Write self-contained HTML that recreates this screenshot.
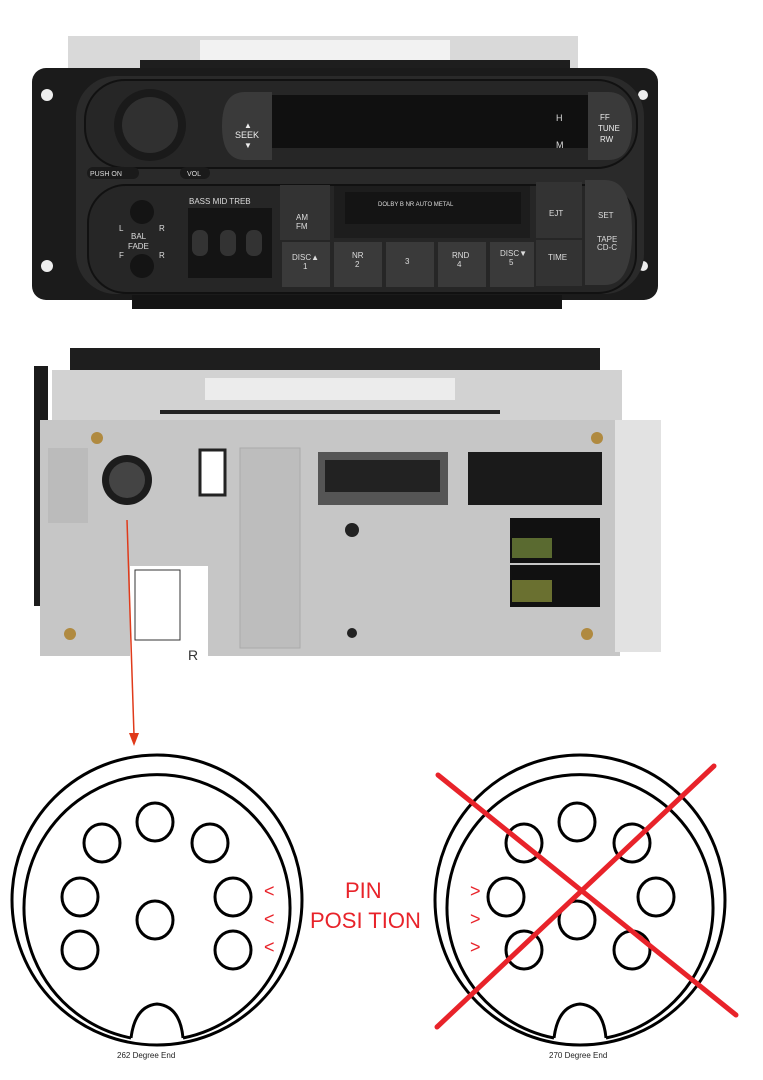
<!DOCTYPE html>
<html><head><meta charset="utf-8"><style>
html,body{margin:0;padding:0;background:#fff;}
svg{display:block;}
text{font-family:"Liberation Sans",sans-serif;}
</style></head><body>
<svg width="763" height="1080" viewBox="0 0 763 1080" xmlns="http://www.w3.org/2000/svg">
<!-- FRONT RADIO -->
<rect x="68" y="36" width="510" height="36" fill="#d9d9d9"/>
<rect x="200" y="40" width="250" height="20" fill="#f2f2f2"/>
<rect x="140" y="60" width="430" height="12" fill="#1e1e1e"/>
<rect x="32" y="68" width="626" height="232" rx="14" fill="#1b1b1b"/>
<circle cx="47" cy="95" r="6" fill="#eee"/><circle cx="47" cy="266" r="6" fill="#eee"/>
<circle cx="643" cy="95" r="5" fill="#eee"/><circle cx="643" cy="266" r="5" fill="#eee"/>
<rect x="132" y="295" width="430" height="14" fill="#141414"/>
<rect x="76" y="76" width="568" height="218" rx="40" fill="#2a2a2a"/>
<rect x="85" y="80" width="552" height="88" rx="40" fill="#262626" stroke="#111" stroke-width="2"/>
<circle cx="150" cy="125" r="36" fill="#1a1a1a"/><circle cx="150" cy="125" r="28" fill="#303030"/>
<rect x="87" y="167" width="52" height="12" rx="6" fill="#1a1a1a"/><text x="90" y="176" font-size="7" fill="#ddd">PUSH ON</text>
<rect x="180" y="167" width="30" height="12" rx="6" fill="#1a1a1a"/><text x="187" y="176" font-size="7" fill="#ddd">VOL</text>
<path d="M272 92 H245 Q222 92 222 126 Q222 160 245 160 H272 Z" fill="#3a3a3a"/>
<text x="235" y="138" font-size="9" fill="#eee">SEEK</text><text x="244" y="128" font-size="8" fill="#eee">▲</text><text x="244" y="148" font-size="8" fill="#eee">▼</text>
<rect x="272" y="95" width="318" height="53" fill="#101010"/>
<text x="556" y="121" font-size="9" fill="#ddd">H</text><text x="556" y="148" font-size="9" fill="#ddd">M</text>
<path d="M588 92 H608 Q632 92 632 126 Q632 160 608 160 H588 Z" fill="#3a3a3a"/>
<text x="600" y="120" font-size="8" fill="#eee">FF</text><text x="598" y="131" font-size="8" fill="#eee">TUNE</text><text x="600" y="142" font-size="8" fill="#eee">RW</text>
<rect x="88" y="185" width="548" height="108" rx="38" fill="#262626" stroke="#111" stroke-width="2"/>
<circle cx="142" cy="212" r="12" fill="#141414"/><circle cx="142" cy="266" r="12" fill="#141414"/>
<text x="119" y="231" font-size="8" fill="#ddd">L</text><text x="159" y="231" font-size="8" fill="#ddd">R</text>
<text x="131" y="239" font-size="8" fill="#ddd">BAL</text><text x="128" y="249" font-size="8" fill="#ddd">FADE</text>
<text x="119" y="258" font-size="8" fill="#ddd">F</text><text x="159" y="258" font-size="8" fill="#ddd">R</text>
<text x="189" y="204" font-size="8" fill="#ddd">BASS  MID  TREB</text>
<rect x="188" y="208" width="84" height="70" fill="#141414"/>
<rect x="192" y="230" width="16" height="26" rx="7" fill="#333"/><rect x="220" y="230" width="16" height="26" rx="7" fill="#333"/><rect x="246" y="230" width="16" height="26" rx="7" fill="#333"/>
<rect x="280" y="185" width="50" height="55" fill="#333"/><text x="296" y="220" font-size="8" fill="#ddd">AM</text><text x="296" y="229" font-size="8" fill="#ddd">FM</text>
<rect x="334" y="186" width="196" height="52" fill="#1d1d1d"/><rect x="345" y="192" width="176" height="32" fill="#141414"/>
<text x="378" y="206" font-size="6" fill="#ddd">DOLBY B NR  AUTO METAL</text>
<rect x="536" y="182" width="46" height="56" fill="#333"/><text x="549" y="216" font-size="8" fill="#ddd">EJT</text>
<rect x="536" y="240" width="46" height="46" fill="#333"/><text x="548" y="260" font-size="8" fill="#ddd">TIME</text>
<path d="M585 180 H605 Q632 180 632 232 Q632 285 605 285 H585 Z" fill="#3a3a3a"/>
<text x="598" y="218" font-size="8" fill="#ddd">SET</text><text x="597" y="242" font-size="8" fill="#ddd">TAPE</text><text x="597" y="250" font-size="8" fill="#ddd">CD-C</text>
<g fill="#3a3a3a"><rect x="282" y="242" width="48" height="45"/><rect x="334" y="242" width="48" height="45"/><rect x="386" y="242" width="48" height="45"/><rect x="438" y="242" width="48" height="45"/><rect x="490" y="242" width="44" height="45"/></g>
<g font-size="8" fill="#ddd"><text x="292" y="260">DISC▲</text><text x="303" y="269">1</text><text x="352" y="258">NR</text><text x="355" y="267">2</text><text x="405" y="264">3</text><text x="452" y="258">RND</text><text x="457" y="267">4</text><text x="500" y="256">DISC▼</text><text x="509" y="265">5</text></g>
<!-- BACK RADIO -->
<rect x="34" y="366" width="14" height="240" fill="#1b1b1b"/>
<rect x="600" y="370" width="20" height="60" fill="#1b1b1b"/>
<rect x="70" y="348" width="530" height="24" fill="#1e1e1e"/>
<rect x="52" y="370" width="570" height="52" fill="#d2d2d2"/>
<rect x="205" y="378" width="250" height="22" fill="#ececec"/>
<g fill="#222"><rect x="160" y="410" width="340" height="4"/></g>
<rect x="40" y="420" width="580" height="236" fill="#c6c6c6"/>
<rect x="615" y="420" width="46" height="232" fill="#e2e2e2"/>
<rect x="48" y="448" width="40" height="75" fill="#bbb"/>
<circle cx="127" cy="480" r="25" fill="#1c1c1c"/><circle cx="127" cy="480" r="18" fill="#444"/>
<rect x="200" y="450" width="25" height="45" fill="#fff" stroke="#222" stroke-width="3"/>
<rect x="240" y="448" width="60" height="200" fill="#bdbdbd" stroke="#aaa"/>
<rect x="318" y="452" width="130" height="53" fill="#555"/><rect x="325" y="460" width="115" height="32" fill="#222"/>
<rect x="468" y="452" width="134" height="53" fill="#1a1a1a"/>
<rect x="510" y="518" width="90" height="45" fill="#111"/><rect x="510" y="565" width="90" height="42" fill="#111"/>
<rect x="512" y="538" width="40" height="20" fill="#5a6a30"/><rect x="512" y="580" width="40" height="22" fill="#6a7030"/>
<circle cx="352" cy="530" r="7" fill="#222"/><circle cx="352" cy="633" r="5" fill="#222"/>
<circle cx="97" cy="438" r="6" fill="#b08a40"/><circle cx="597" cy="438" r="6" fill="#b08a40"/><circle cx="70" cy="634" r="6" fill="#b08a40"/><circle cx="587" cy="634" r="6" fill="#b08a40"/>
<rect x="130" y="566" width="78" height="94" fill="#fff"/><rect x="135" y="570" width="45" height="70" fill="#fff" stroke="#333"/>
<text x="188" y="660" font-size="14" fill="#333">R</text>
<!-- arrow -->
<line x1="127" y1="520" x2="134" y2="735" stroke="#e03a1a" stroke-width="1.5"/>
<polygon points="129,733 139,733 134,746" fill="#e03a1a"/>
<!-- LEFT CONNECTOR -->
<g fill="none" stroke="#000" stroke-width="3">
<ellipse cx="157" cy="900" rx="145" ry="145"/>
<path d="M131 1038 A133 133 0 1 1 183 1038"/>
<path d="M131 1038 Q135 1006 157 1004 Q180 1006 183 1038"/>
<ellipse cx="155" cy="822" rx="18" ry="19"/><ellipse cx="102" cy="843" rx="18" ry="19"/><ellipse cx="210" cy="843" rx="18" ry="19"/>
<ellipse cx="80" cy="897" rx="18" ry="19"/><ellipse cx="233" cy="897" rx="18" ry="19"/><ellipse cx="155" cy="920" rx="18" ry="19"/>
<ellipse cx="80" cy="950" rx="18" ry="19"/><ellipse cx="233" cy="950" rx="18" ry="19"/>
</g>
<!-- RIGHT CONNECTOR -->
<g fill="none" stroke="#000" stroke-width="3">
<ellipse cx="580" cy="900" rx="145" ry="145"/>
<path d="M554 1038 A133 133 0 1 1 606 1038"/>
<path d="M554 1038 Q558 1006 580 1004 Q603 1006 606 1038"/>
<ellipse cx="577" cy="822" rx="18" ry="19"/><ellipse cx="524" cy="843" rx="18" ry="19"/><ellipse cx="632" cy="843" rx="18" ry="19"/>
<ellipse cx="506" cy="897" rx="18" ry="19"/><ellipse cx="656" cy="897" rx="18" ry="19"/><ellipse cx="577" cy="920" rx="18" ry="19"/>
<ellipse cx="524" cy="950" rx="18" ry="19"/><ellipse cx="632" cy="950" rx="18" ry="19"/>
</g>
<g stroke="#e8232a" stroke-width="5" stroke-linecap="round">
<line x1="438" y1="775" x2="736" y2="1015"/><line x1="714" y1="766" x2="437" y2="1027"/>
</g>
<g fill="#e8232a" font-size="22">
<text x="345" y="898">PIN</text><text x="310" y="928">POSI TION</text>
<text x="264" y="897" font-size="18">&lt;</text><text x="264" y="925" font-size="18">&lt;</text><text x="264" y="953" font-size="18">&lt;</text>
<text x="470" y="897" font-size="18">&gt;</text><text x="470" y="925" font-size="18">&gt;</text><text x="470" y="953" font-size="18">&gt;</text>
</g>
<text x="117" y="1058" font-size="8" fill="#222">262 Degree End</text>
<text x="549" y="1058" font-size="8" fill="#222">270 Degree End</text>
</svg>
</body></html>
